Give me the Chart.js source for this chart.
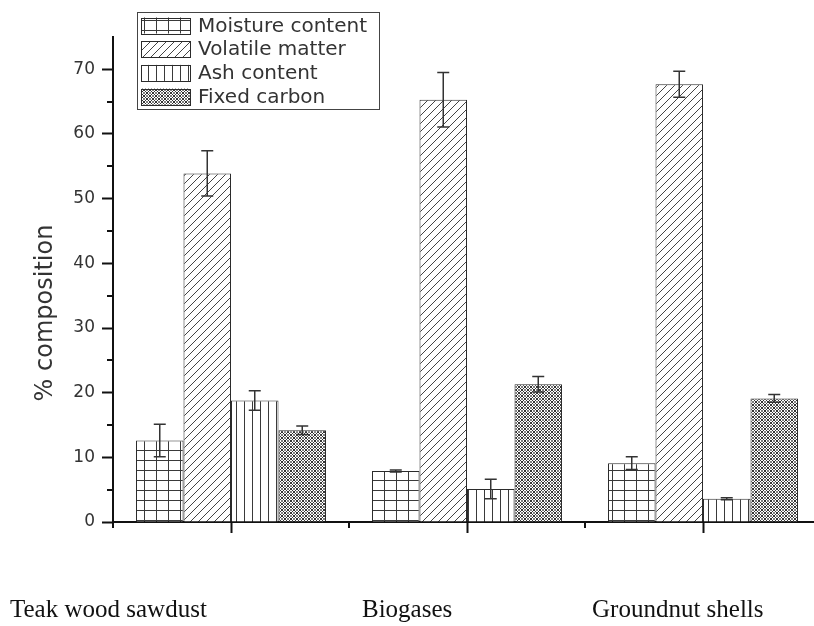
<!DOCTYPE html>
<html>
<head>
<meta charset="utf-8">
<style>
  html, body { margin: 0; padding: 0; background: #fff; }
  body { width: 814px; height: 626px; overflow: hidden; position: relative; }
  canvas { position: absolute; left: 0; top: 0; }
</style>
<script src="https://cdn.jsdelivr.net/npm/chart.js@4.4.1/dist/chart.umd.min.js"></script>
</head>
<body>
<canvas id="chart" width="830" height="626"></canvas>
<script>
// Proximate analysis of three biomass samples (% composition, mean and error)
const categories = ['Teak wood sawdust', 'Biogases', 'Groundnut shells'];
const seriesNames = ['Moisture content', 'Volatile matter', 'Ash content', 'Fixed carbon'];

const moisture      = [12.6, 7.9, 9.1];
const moistureErr   = [2.5, 0.15, 1.0];
const volatileMat   = [53.9, 65.3, 67.7];
const volatileErr   = [3.5, 4.2, 2.0];
const ash           = [18.8, 5.1, 3.6];
const ashErr        = [1.5, 1.5, 0.15];
const fixedCarbon   = [14.2, 21.3, 19.1];
const fixedErr      = [0.65, 1.2, 0.6];

const yTicks = [0, 10, 20, 30, 40, 50, 60, 70];
const yMinorTicks = [5, 15, 25, 35, 45, 55, 65];

// left edge of each bottom caption, and their common baseline
const captionLeft = [10, 362, 592];
const captionBaseline = 617;

const INK = '#2b2b2b';
const TEXT = '#333';

// ---- hatch patterns ----
function tile(w, h, draw) {
  const c = document.createElement('canvas');
  c.width = w; c.height = h;
  const g = c.getContext('2d');
  g.fillStyle = '#fff';
  g.fillRect(0, 0, w, h);
  draw(g, w, h);
  return document.createElement('canvas').getContext('2d').createPattern(c, 'repeat');
}
const gridPattern = tile(12, 10, (g, w, h) => {
  g.strokeStyle = '#3a3a3a'; g.lineWidth = 1;
  g.beginPath();
  g.moveTo(0.5, 0); g.lineTo(0.5, h);
  g.moveTo(0, 0.5); g.lineTo(w, 0.5);
  g.stroke();
});
const diagPattern = tile(8, 8, (g, w, h) => {
  g.strokeStyle = '#444'; g.lineWidth = 1;
  g.beginPath();
  g.moveTo(-1, h + 1); g.lineTo(w + 1, -1);
  g.moveTo(-1, 1); g.lineTo(1, -1);
  g.moveTo(w - 1, h + 1); g.lineTo(w + 1, h - 1);
  g.stroke();
});
const vertPattern = tile(8, 4, (g, w, h) => {
  g.strokeStyle = '#3a3a3a'; g.lineWidth = 1;
  g.beginPath();
  g.moveTo(4.5, 0); g.lineTo(4.5, h);
  g.stroke();
});
const crossPattern = tile(6, 6, (g, w, h) => {
  g.strokeStyle = '#333'; g.lineWidth = 1;
  g.beginPath();
  g.moveTo(0, 0); g.lineTo(w, h);
  g.moveTo(0, h); g.lineTo(w, 0);
  g.stroke();
  g.fillStyle = '#000';
  g.fillRect(0, 2.5, 1, 1);
  g.fillRect(2.5, 0, 1, 1);
  g.fillRect(5, 2.5, 1, 1);
  g.fillRect(2.5, 5, 1, 1);
});

const seriesValues = [moisture, volatileMat, ash, fixedCarbon];
const seriesErrors = [moistureErr, volatileErr, ashErr, fixedErr];
const seriesFills = [gridPattern, diagPattern, vertPattern, crossPattern];

// ---- plugins ----
const errorBars = {
  id: 'errorBars',
  afterDatasetsDraw(chart) {
    const { ctx } = chart;
    const y = chart.scales.y;
    ctx.save();
    ctx.strokeStyle = '#333';
    ctx.lineWidth = 1.5;
    chart.data.datasets.forEach((ds, di) => {
      const meta = chart.getDatasetMeta(di);
      meta.data.forEach((bar, i) => {
        const v = ds.data[i], e = ds.errors[i];
        const top = y.getPixelForValue(v + e);
        const bot = y.getPixelForValue(v - e);
        const cap = 6;
        ctx.beginPath();
        ctx.moveTo(bar.x, top); ctx.lineTo(bar.x, bot);
        ctx.moveTo(bar.x - cap, top); ctx.lineTo(bar.x + cap, top);
        ctx.moveTo(bar.x - cap, bot); ctx.lineTo(bar.x + cap, bot);
        ctx.stroke();
      });
    });
    ctx.restore();
  }
};

const minorTicks = {
  id: 'minorTicks',
  afterDraw(chart) {
    const { ctx, chartArea } = chart;
    const x = chart.scales.x, y = chart.scales.y;
    ctx.save();
    ctx.strokeStyle = '#111';
    ctx.lineWidth = 2;
    ctx.beginPath();
    yMinorTicks.forEach(v => {
      const py = Math.round(y.getPixelForValue(v));
      ctx.moveTo(chartArea.left, py); ctx.lineTo(chartArea.left - 6, py);
    });
    const step = x.getPixelForValue(1) - x.getPixelForValue(0);
    for (let i = 0; i <= categories.length; i++) {
      const px = x.getPixelForValue(0) - step / 2 + i * step;
      ctx.moveTo(px, chartArea.bottom); ctx.lineTo(px, chartArea.bottom + 6);
    }
    ctx.stroke();
    ctx.restore();
  }
};

const annotations = {
  id: 'annotations',
  afterDraw(chart) {
    const { ctx } = chart;
    ctx.save();

    // y-axis title
    ctx.fillStyle = TEXT;
    ctx.font = '24px "DejaVu Sans"';
    ctx.textAlign = 'center';
    ctx.textBaseline = 'middle';
    ctx.translate(46, 313);
    ctx.rotate(-Math.PI / 2);
    ctx.fillText('% composition', 0, 0);
    ctx.setTransform(1, 0, 0, 1, 0, 0);

    // legend box inside the plot
    const lx = 137, ly = 12, lw = 242, lh = 97;
    ctx.fillStyle = '#fff';
    ctx.fillRect(lx, ly, lw, lh);
    ctx.strokeStyle = '#444';
    ctx.lineWidth = 1;
    ctx.strokeRect(lx + 0.5, ly + 0.5, lw, lh);
    ctx.font = '20px "DejaVu Sans"';
    ctx.textAlign = 'left';
    ctx.textBaseline = 'middle';
    chart.data.datasets.forEach((ds, i) => {
      const top = 17.5 + i * 23.7;
      const sx = 141, sw = 49, sh = 16;
      ctx.fillStyle = ds.backgroundColor;
      ctx.fillRect(sx, top, sw, sh);
      ctx.strokeStyle = INK;
      ctx.strokeRect(Math.round(sx) + 0.5, Math.round(top) + 0.5, sw, sh);
      ctx.fillStyle = TEXT;
      ctx.fillText(ds.label, 198, top + sh / 2 + 1);
    });

    // sample names under the axis
    ctx.fillStyle = '#111';
    ctx.font = '25px "Liberation Serif"';
    ctx.textAlign = 'left';
    ctx.textBaseline = 'alphabetic';
    chart.data.labels.forEach((name, i) => {
      ctx.fillText(name, captionLeft[i], captionBaseline);
    });
    ctx.restore();
  }
};

new Chart(document.getElementById('chart'), {
  type: 'bar',
  data: {
    labels: categories,
    datasets: seriesNames.map((name, i) => ({
      label: name,
      data: seriesValues[i],
      errors: seriesErrors[i],
      backgroundColor: seriesFills[i],
      borderColor: INK,
      borderWidth: 1,
      borderSkipped: 'bottom',
      categoryPercentage: 0.805,
      barPercentage: 1.0
    }))
  },
  options: {
    responsive: false,
    animation: false,
    devicePixelRatio: 1,
    layout: { padding: { top: 37, right: 9, bottom: 0, left: 0 } },
    plugins: { legend: { display: false }, tooltip: { enabled: false } },
    scales: {
      x: {
        grid: { display: true, drawOnChartArea: false, offset: false, tickLength: 11, tickWidth: 2, tickColor: '#111' },
        border: { display: true, color: '#111', width: 2 },
        ticks: { display: false },
        afterFit(scale) { scale.height = 104; }
      },
      y: {
        min: 0, max: 75,
        grid: { drawOnChartArea: false, tickLength: 11, tickWidth: 2, tickColor: '#111' },
        border: { display: true, color: '#111', width: 2 },
        ticks: { stepSize: 10, padding: 7, color: TEXT, font: { family: 'DejaVu Sans', size: 17 } },
        afterBuildTicks(scale) { scale.ticks = yTicks.map(v => ({ value: v })); },
        afterFit(scale) { scale.width = 113; }
      }
    }
  },
  plugins: [errorBars, minorTicks, annotations]
});
</script>
</body>
</html>
